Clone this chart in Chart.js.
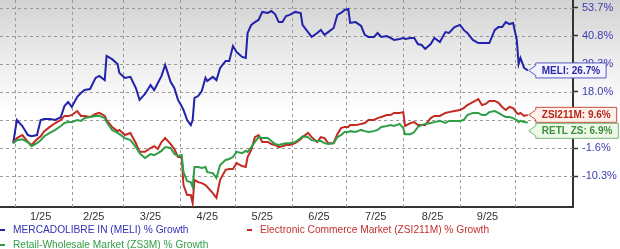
<!DOCTYPE html>
<html>
<head>
<meta charset="utf-8">
<script src="https://cdn.jsdelivr.net/npm/chart.js@4.4.0/dist/chart.umd.min.js"></script>
<style>
  html, body { margin: 0; padding: 0; }
  body {
    width: 620px; height: 249px; overflow: hidden; position: relative;
    background: linear-gradient(to bottom, #d2d2d2 0px, #ebebeb 55px, #ffffff 115px, #ffffff 249px);
    font-family: "Liberation Sans", Arial, sans-serif;
  }
  #chart { position: absolute; left: 0; top: 0; }
  .leg { position: absolute; font-size: 10.2px; line-height: 12px; white-space: nowrap; }
  .leg i { display: inline-block; width: 5px; height: 2px; margin-right: 8px; vertical-align: middle; }
</style>
</head>
<body>
<canvas id="chart" width="620" height="249"></canvas>
<div class="leg" style="left:0; top:224px; color:#3232b4"><i style="background:#2424aa"></i>MERCADOLIBRE IN (MELI) % Growth</div>
<div class="leg" style="left:247px; top:224px; color:#c23030"><i style="background:#c42a24"></i>Electronic Commerce Market (ZSI211M) % Growth</div>
<div class="leg" style="left:0; top:239px; color:#2f9e46"><i style="background:#2f9e46"></i>Retail-Wholesale Market (ZS3M) % Growth</div>
<script>
// trading days, counted from Jan 1 2025
const days = [-1, 1, 4, 7, 9, 12, 14, 16, 19, 22,
  25, 27, 29, 31, 34, 36, 38, 41, 44, 46,
  49, 50, 53, 56, 57, 60, 63, 66, 68, 71,
  74, 76, 78, 80, 82, 85, 87, 89, 91, 92,
  94, 96, 97, 98, 100, 102, 104, 105, 108, 110,
  112, 115, 117, 119, 121, 124, 126, 127, 129, 131,
  133, 135, 138, 140, 142, 144, 146, 148, 150, 153,
  156, 157, 160, 162, 165, 167, 169, 171, 174, 176,
  178, 180, 182, 183, 186, 189, 191, 193, 196, 198,
  200, 203, 205, 207, 210, 212, 213, 216, 218, 220,
  222, 224, 227, 229, 232, 235, 237, 240, 243, 245,
  247, 250, 253, 255, 257, 259, 262, 264, 266, 268,
  270, 272, 274, 275, 276, 278, 280];

// % growth
const meliGrowth = [0.0, 7.7, 5.7, 2.7, 2.3, 2.7, 7.7, 8.1, 8.1, 7.7,
  8.8, 12.8, 14.3, 12.5, 16.2, 17.6, 18.8, 19.2, 23.7, 24.5,
  22.8, 32.6, 31.3, 29.3, 25.7, 23.7, 24.1, 19.6, 15.1, 17.3,
  20.8, 18.8, 21.6, 24.5, 28.9, 22.0, 19.6, 15.1, 12.8, 11.4,
  7.7, 6.0, 7.7, 15.8, 16.5, 18.4, 23.7, 22.4, 24.1, 22.8,
  27.7, 30.5, 30.5, 36.7, 34.2, 32.2, 31.8, 42.2, 45.9, 47.2,
  48.2, 51.9, 51.4, 52.3, 50.9, 47.2, 47.2, 50.0, 50.5, 51.9,
  51.4, 45.9, 42.6, 40.4, 42.2, 43.6, 41.3, 42.6, 44.5, 50.5,
  51.4, 52.8, 53.2, 46.8, 47.2, 45.4, 41.3, 40.4, 40.4, 42.2,
  40.4, 40.8, 40.0, 39.2, 39.6, 40.0, 39.6, 40.0, 40.0, 37.5,
  37.1, 35.5, 37.5, 40.0, 38.3, 42.6, 42.2, 44.9, 45.9, 43.6,
  42.2, 39.2, 37.9, 37.9, 37.9, 37.9, 43.6, 44.9, 44.9, 47.2,
  46.3, 46.8, 39.2, 29.3, 31.8, 27.7, 26.7];

const ecomGrowth = [0.0, 1.7, 2.7, 0.4, -0.6, 1.3, 2.3, 4.0, 5.4, 6.7,
  7.7, 9.2, 9.2, 9.5, 11.0, 9.2, 9.2, 8.8, 9.9, 10.3,
  9.2, 7.7, 5.4, 4.0, 4.4, 2.7, 3.4, 0.0, -2.8, -2.8,
  -1.6, -1.0, -1.9, 0.4, 1.7, -0.3, -1.9, -4.4, -4.4, -13.1,
  -16.2, -16.2, -18.7, -11.5, -12.2, -12.5, -13.1, -13.7, -15.6, -17.1,
  -11.5, -8.4, -8.1, -8.1, -6.3, -7.2, -7.5, -4.4, -2.2, 2.0,
  2.7, 0.4, 0.4, -0.3, -0.6, -1.3, -1.0, -0.6, -0.6, 0.0,
  1.3, 2.0, 3.4, 2.0, 0.4, 2.0, 1.7, 0.0, 0.0, 3.0,
  5.0, 5.4, 5.4, 6.0, 6.0, 6.4, 6.7, 7.7, 7.7, 8.4,
  8.8, 9.5, 9.5, 10.3, 10.3, 10.6, 5.7, 6.7, 7.0, 6.0,
  6.0, 6.0, 8.4, 9.2, 9.2, 10.3, 10.6, 11.0, 11.4, 12.1,
  13.2, 14.3, 15.4, 13.2, 13.6, 14.7, 14.7, 14.0, 12.5, 11.4,
  12.5, 12.1, 10.3, 9.9, 10.3, 9.2, 9.6];

const retailGrowth = [0.0, 1.0, 1.3, 0.4, -1.0, 0.0, 1.0, 2.3, 3.4, 4.4,
  5.7, 6.7, 7.0, 7.0, 7.7, 7.4, 8.4, 8.8, 9.2, 9.2,
  8.4, 7.0, 4.4, 3.4, 3.0, 1.7, 1.0, -1.3, -3.2, -4.7,
  -3.5, -3.8, -3.2, -2.5, -1.3, -1.6, -3.5, -4.1, -3.8, -9.1,
  -11.9, -12.2, -13.7, -7.5, -7.5, -7.8, -7.5, -9.1, -9.4, -10.9,
  -6.9, -5.3, -5.0, -4.4, -2.8, -3.2, -2.5, -2.8, -1.3, 0.4,
  2.0, 1.7, 1.7, 0.7, -0.3, -0.6, -0.3, 0.0, 0.0, 0.4,
  1.7, 2.3, 2.0, 1.0, 0.7, 0.7, 0.0, -0.3, 0.0, 2.0,
  2.7, 3.7, 3.7, 4.0, 3.7, 4.4, 4.0, 3.7, 4.0, 4.4,
  5.4, 5.7, 6.0, 5.7, 6.4, 5.0, 3.0, 3.0, 3.7, 5.4,
  6.0, 6.4, 6.7, 7.0, 7.4, 6.7, 7.4, 7.4, 7.4, 7.7,
  9.5, 10.3, 10.3, 9.5, 9.5, 10.6, 11.0, 10.3, 9.5, 8.8,
  8.8, 8.4, 7.7, 7.0, 7.4, 7.0, 6.9];

const monthStarts = [0, 31, 59, 90, 120, 151, 181, 212, 243, 273];
const monthLabelDays = [14, 43, 74, 105, 135, 166, 197, 228, 258];
const monthLabels = ['1/25', '2/25', '3/25', '4/25', '5/25', '6/25', '7/25', '8/25', '9/25'];

// right axis is a log-like growth scale; ticks are evenly spaced
const yTickValues = [-10.3, -1.6, 7.7, 18.0, 29.3, 40.8, 53.7];

const seriesNames = ['MELI', 'ZSI211M', 'RETL ZS'];
const lineColors = ['#2222aa', '#c42a24', '#2f9e46'];

// map a % value onto the evenly spaced tick positions (0..6)
function toAxis(v) {
  const t = yTickValues;
  let i = 0;
  while (i < t.length - 2 && v > t[i + 1]) i++;
  return i + (v - t[i]) / (t[i + 1] - t[i]);
}

function toPoints(values) {
  return values.map((v, i) => ({ x: days[i], y: toAxis(v), raw: v }));
}

const allSeries = [meliGrowth, ecomGrowth, retailGrowth];

// dotted grid drawn under the lines
const dottedGrid = {
  id: 'dottedGrid',
  beforeDatasetsDraw(chart) {
    const ctx = chart.ctx;
    const a = chart.chartArea;
    const xs = chart.scales.x;
    const ys = chart.scales.y;
    ctx.save();
    ctx.strokeStyle = '#9a9a9a';
    ctx.lineWidth = 1;
    ctx.setLineDash([3, 3]);
    ctx.beginPath();
    yTickValues.forEach((v, i) => {
      const py = Math.round(ys.getPixelForValue(i)) + 0.5;
      ctx.moveTo(a.left, py);
      ctx.lineTo(a.right, py);
    });
    monthStarts.forEach(d => {
      const px = Math.round(xs.getPixelForValue(d)) + 0.5;
      ctx.moveTo(px, a.top);
      ctx.lineTo(px, a.bottom);
    });
    ctx.stroke();
    ctx.restore();
  }
};

// callout boxes at the right end of each line
const callouts = {
  id: 'callouts',
  afterDatasetsDraw(chart) {
    const ctx = chart.ctx;
    const styles = [
      { fill: '#f3f3ff', stroke: '#5a5ac0', text: '#2a2aa6' },
      { fill: '#fff1ea', stroke: '#c85040', text: '#b3261e' },
      { fill: '#eef8e8', stroke: '#78b878', text: '#3d8f3d' }
    ];
    ctx.save();
    ctx.font = 'bold 10px "Liberation Sans", Arial, sans-serif';
    ctx.textBaseline = 'middle';
    ctx.lineWidth = 1;
    let prevY = -100;
    allSeries.forEach((vals, k) => {
      const meta = chart.getDatasetMeta(k);
      const last = meta.data[meta.data.length - 1];
      const label = seriesNames[k] + ': ' + vals[vals.length - 1].toFixed(1) + '%';
      const cy = Math.max(last.y, prevY + 16);
      prevY = cy;
      const tipX = last.x + 1;
      const left = tipX + 7;
      const w = ctx.measureText(label).width + 12;
      const h = 15;
      const top = cy - h / 2;
      ctx.beginPath();
      ctx.moveTo(tipX, cy);
      ctx.lineTo(left, cy - 5);
      ctx.lineTo(left, top);
      ctx.lineTo(left + w, top);
      ctx.lineTo(left + w, top + h);
      ctx.lineTo(left, top + h);
      ctx.lineTo(left, cy + 5);
      ctx.closePath();
      ctx.fillStyle = styles[k].fill;
      ctx.fill();
      ctx.strokeStyle = styles[k].stroke;
      ctx.stroke();
      ctx.fillStyle = styles[k].text;
      ctx.fillText(label, left + 6, cy + 0.5);
    });
    ctx.restore();
  }
};

new Chart(document.getElementById('chart').getContext('2d'), {
  type: 'line',
  data: {
    datasets: allSeries.map((vals, k) => ({
      label: seriesNames[k],
      data: toPoints(vals),
      borderColor: lineColors[k],
      borderWidth: 2,
      pointRadius: 0,
      tension: 0,
      order: 3 - k
    }))
  },
  options: {
    responsive: false,
    animation: false,
    devicePixelRatio: 1,
    layout: { padding: 0 },
    plugins: { legend: { display: false }, tooltip: { enabled: false } },
    scales: {
      x: {
        type: 'linear',
        min: -8.2,
        max: 304.7,
        afterBuildTicks: (axis) => {
          axis.ticks = monthLabelDays.map(v => ({ value: v }));
        },
        afterFit: (axis) => {
          axis.height = 42;
          axis.paddingLeft = 0;
          axis.paddingRight = 0;
        },
        ticks: {
          autoSkip: false,
          maxRotation: 0,
          minRotation: 0,
          padding: 3,
          color: '#333333',
          font: { family: '"Liberation Sans", Arial, sans-serif', size: 11 },
          callback: (value) => monthLabels[monthLabelDays.indexOf(value)]
        },
        grid: { drawTicks: false, drawOnChartArea: false },
        border: { display: true, color: '#333333', width: 2 }
      },
      y: {
        type: 'linear',
        position: 'right',
        min: -31 / 28,
        max: 6 + 8 / 28,
        afterBuildTicks: (axis) => {
          axis.ticks = yTickValues.map((v, i) => ({ value: i }));
        },
        afterFit: (axis) => {
          axis.width = 47;
          axis.paddingTop = 0;
          axis.paddingBottom = 0;
        },
        ticks: {
          padding: 4,
          color: '#3b3bb2',
          font: { family: '"Liberation Sans", Arial, sans-serif', size: 11 },
          callback: (value) => yTickValues[value].toFixed(1) + '%'
        },
        grid: {
          drawOnChartArea: false,
          tickLength: 5,
          tickColor: '#333333',
          tickWidth: 1.5
        },
        border: { display: true, color: '#333333', width: 2 }
      }
    }
  },
  plugins: [dottedGrid, callouts]
});
</script>
</body>
</html>
